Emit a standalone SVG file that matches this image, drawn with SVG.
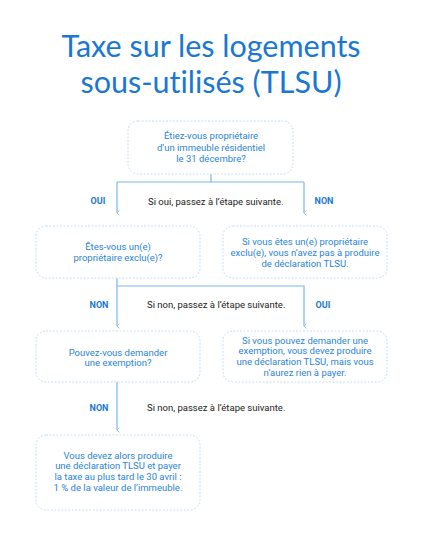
<svg xmlns="http://www.w3.org/2000/svg" width="423" height="546" viewBox="0 0 423 546">
<defs>
<marker id="arr" viewBox="0 0 10 10" refX="5" refY="9" markerWidth="6" markerHeight="6" orient="auto-start-reverse" markerUnits="userSpaceOnUse">
<path d="M1,5 L5,9 L9,5" fill="none" stroke="#8cbfec" stroke-width="1.3"/>
</marker>
</defs>
<style>
.title{font-family:Lato,"Open Sans",sans-serif;font-weight:400;font-size:30.5px;fill:#1a78d2;text-anchor:middle;font-variant-ligatures:none}
.box{fill:#ffffff;stroke:#c9def4;stroke-width:1;stroke-dasharray:2,1.5}
.bt{font-family:Roboto,"Liberation Sans",sans-serif;font-size:9.5px;fill:#2a84d8;text-anchor:middle}
.lab{font-family:Roboto,"Liberation Sans",sans-serif;font-size:9px;font-weight:bold;fill:#1a78d2;text-anchor:middle}
.note{font-family:Roboto,"Liberation Sans",sans-serif;font-size:9.5px;fill:#222222}
.ln{fill:none;stroke:#7db6ea;stroke-width:1.2}
</style>
<rect width="423" height="546" fill="#ffffff"/>
<g id="title">
<text class="title" x="211" y="57">Taxe sur les logements</text>
<text class="title" x="211" y="93">sous-utilisés (TLSU)</text>
</g>
<g id="connectors">
<path class="ln" d="M211,174 V182 M117,182 H304"/>
<path class="ln" d="M117,182 V213" marker-end="url(#arr)"/>
<path class="ln" d="M304,182 V213" marker-end="url(#arr)"/>
<path class="ln" d="M117,278 V326" marker-end="url(#arr)"/>
<path class="ln" d="M117,286 H304 V326" marker-end="url(#arr)"/>
<path class="ln" d="M117,382 V430" marker-end="url(#arr)"/>
<text class="lab" x="98" y="204">OUI</text>
<text class="lab" x="324" y="204">NON</text>
<text class="note" x="148" y="205">Si oui, passez à l’étape suivante.</text>
<text class="lab" x="99" y="308">NON</text>
<text class="lab" x="323" y="308">OUI</text>
<text class="note" x="147" y="308">Si non, passez à l’étape suivante.</text>
<text class="lab" x="99" y="411">NON</text>
<text class="note" x="147" y="411">Si non, passez à l’étape suivante.</text>
</g>
<g id="n1">
<rect class="box" x="128" y="121" width="165" height="53" rx="10"/>
<text class="bt" x="211" y="139">Étiez-vous propriétaire</text>
<text class="bt" x="211" y="150.5">d’un immeuble résidentiel</text>
<text class="bt" x="211" y="162">le 31 décembre?</text>
</g>
<g id="n2">
<rect class="box" x="36" y="226" width="164" height="52" rx="10"/>
<text class="bt" x="118" y="250">Êtes-vous un(e)</text>
<text class="bt" x="118" y="261">propriétaire exclu(e)?</text>
</g>
<g id="n3">
<rect class="box" x="223" y="226" width="164" height="52" rx="10"/>
<text class="bt" x="305" y="244.5">Si vous êtes un(e) propriétaire</text>
<text class="bt" x="305" y="255.5">exclu(e), vous n’avez pas à produire</text>
<text class="bt" x="305" y="266.5">de déclaration TLSU.</text>
</g>
<g id="n4">
<rect class="box" x="36" y="331" width="164" height="51" rx="10"/>
<text class="bt" x="118" y="355.5">Pouvez-vous demander</text>
<text class="bt" x="118" y="366">une exemption?</text>
</g>
<g id="n5">
<rect class="box" x="223" y="331" width="164" height="51" rx="10"/>
<text class="bt" x="305" y="343.5">Si vous pouvez demander une</text>
<text class="bt" x="305" y="354">exemption, vous devez produire</text>
<text class="bt" x="305" y="365">une déclaration TLSU, mais vous</text>
<text class="bt" x="305" y="375.5">n’aurez rien à payer.</text>
</g>
<g id="n6">
<rect class="box" x="36" y="435" width="164" height="75" rx="10"/>
<text class="bt" x="118" y="458.5">Vous devez alors produire</text>
<text class="bt" x="118" y="469">une déclaration TLSU et payer</text>
<text class="bt" x="118" y="480">la taxe au plus tard le 30 avril :</text>
<text class="bt" x="118" y="491">1 % de la valeur de l’immeuble.</text>
</g>
</svg>
